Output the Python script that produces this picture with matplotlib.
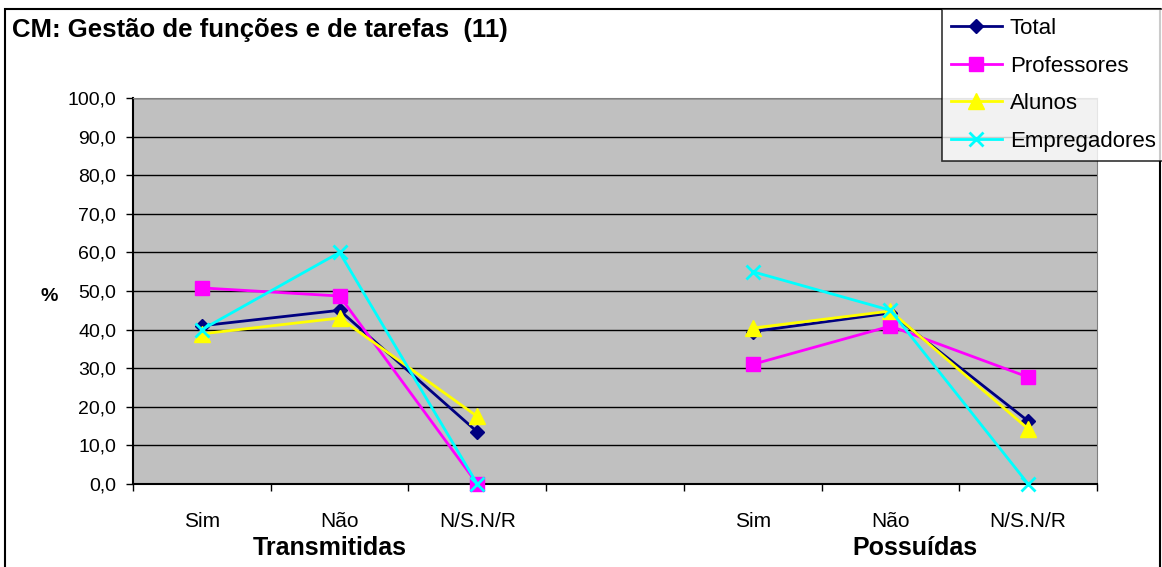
import numpy as np
import matplotlib.pyplot as plt
from matplotlib.patches import Rectangle

plt.rcParams['font.family'] = ['Liberation Sans', 'DejaVu Sans']

# categories: two groups of three, one empty slot between them
categories = ['Sim', 'Não', 'N/S.N/R', '', 'Sim', 'Não', 'N/S.N/R']
groups = ['Transmitidas', 'Possuídas']

total = [41.0, 45.0, 13.5, np.nan, 39.5, 44.3, 16.3]
professores = [50.8, 48.7, 0.0, np.nan, 31.0, 40.9, 27.7]
alunos = [38.9, 43.0, 17.5, np.nan, 40.4, 44.8, 14.3]
empregadores = [40.0, 60.0, 0.0, np.nan, 55.0, 45.0, 0.0]

series = [
    ('Total', total, '#000080', 'D', 7.5),
    ('Professores', professores, '#FF00FF', 's', 10),
    ('Alunos', alunos, '#FFFF00', '^', 11),
    ('Empregadores', empregadores, '#00FFFF', 'x', 10),
]

W, H = 1162, 567
fig = plt.figure(figsize=(W / 100, H / 100), dpi=100)
ax = fig.add_axes([133 / W, 1 - 484 / H, (1097 - 133) / W, (484 - 98) / H])
ax.set_facecolor('#C0C0C0')

x = np.arange(len(categories)) + 0.5
for name, vals, col, mk, ms in series:
    kw = dict(markeredgewidth=2) if mk == 'x' else dict(markeredgecolor=col)
    ax.plot(x, vals, color=col, lw=2, marker=mk, markersize=ms,
            markerfacecolor=col, label=name, clip_on=False, zorder=3, **kw)

ax.set_xlim(0, len(categories))
ax.set_ylim(0, 100)
ax.set_yticks(np.arange(0, 101, 10))
ax.set_yticklabels([f'{v:.1f}'.replace('.', ',') for v in range(0, 101, 10)], fontsize=14)
ax.yaxis.grid(True, color='black', lw=1)
ax.set_axisbelow(True)

ax.set_xticks(np.arange(len(categories) + 1))
ax.set_xticklabels([])
ax.set_xticks(x, minor=True)
ax.set_xticklabels(categories, minor=True, fontsize=15)
ax.tick_params(axis='x', which='minor', length=0, pad=20)
ax.tick_params(axis='x', which='major', length=5, direction='out', width=1)
ax.tick_params(axis='y', length=5, direction='out', width=1, pad=7)

for side in ['top', 'right']:
    ax.spines[side].set_color('#808080')
for side in ['left', 'bottom']:
    ax.spines[side].set_color('black')
    ax.spines[side].set_linewidth(1.5)

ax.text(-0.087, 0.485, '%', transform=ax.transAxes, fontsize=14, fontweight='bold',
        ha='center', va='center')

# group labels
for gx, gname in zip([1.43, 5.68], groups):
    ax.text(gx, -0.165, gname, transform=ax.get_xaxis_transform(), fontsize=18,
            fontweight='bold', ha='center', va='center')

fig.text(12 / W, 1 - 30 / H, 'CM: Gestão de funções e de tarefas  (11)', fontsize=18.5,
         fontweight='bold', ha='left', va='center')

# chart border
fig.patches.append(Rectangle((5 / W, -0.02), (1160 - 5) / W, 1.02 - 9 / H,
                             transform=fig.transFigure, fill=False, ec='black', lw=1.5))

leg = fig.legend(loc='upper left', bbox_to_anchor=(942 / W, 1 - 9 / H), fontsize=16,
                 frameon=True, fancybox=False, edgecolor='black', handlelength=2.3,
                 borderpad=0.4, labelspacing=0.75, handletextpad=0.35, borderaxespad=0)
leg.get_frame().set_linewidth(1.2)

fig.savefig('out.png', dpi=100)
